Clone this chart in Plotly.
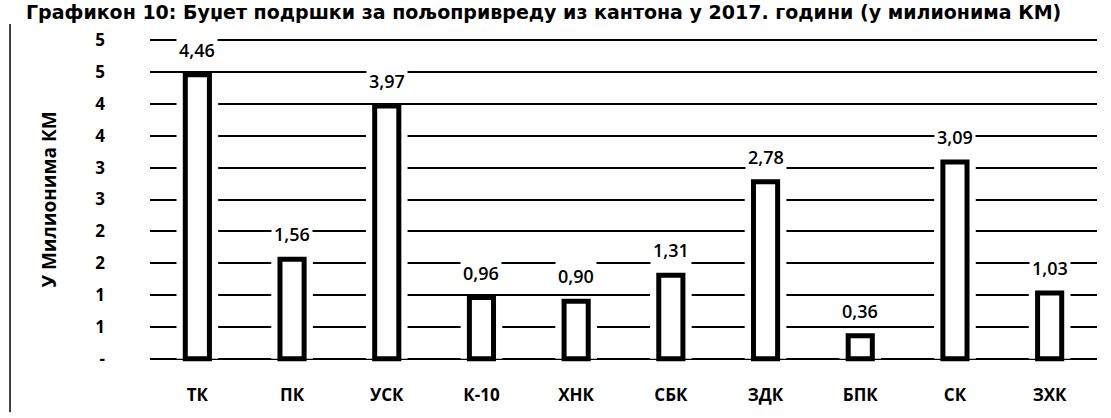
import plotly.graph_objects as go

categories = ["ТК", "ПК", "УСК", "К-10", "ХНК", "СБК", "ЗДК", "БПК", "СК", "ЗХК"]
values = [4.46, 1.56, 3.97, 0.96, 0.90, 1.31, 2.78, 0.36, 3.09, 1.03]
value_labels = ["4,46", "1,56", "3,97", "0,96", "0,90", "1,31", "2,78", "0,36", "3,09", "1,03"]
tick_vals = [0, 0.5, 1, 1.5, 2, 2.5, 3, 3.5, 4, 4.5, 5]
tick_text = ["-", "1", "1", "2", "2", "3", "3", "4", "4", "5", "5"]

title_text = "Графикон 10: Буџет подршки за пољопривреду из кантона у 2017. години (у милионима КМ)"
y_title = "У Милионима КМ"

FONT = "Open Sans"

fig = go.Figure()
# white halo bars to interrupt the gridlines around each bar
fig.add_trace(go.Bar(x=categories, y=values, width=0.44,
                     marker=dict(color="white", line=dict(width=0)),
                     hoverinfo="skip", showlegend=False))
# main bars: white fill, thick black outline
fig.add_trace(go.Bar(x=categories, y=values, width=0.255,
                     marker=dict(color="white", line=dict(color="black", width=5)),
                     showlegend=False))

for c, v, t in zip(categories, values, value_labels):
    fig.add_annotation(x=c, y=v, text=t, showarrow=False, yanchor="bottom", yshift=10,
                       bgcolor="white", borderpad=2,
                       font=dict(family=FONT, size=18, color="black", weight=600))

fig.add_annotation(xref="paper", yref="paper", x=-0.132, y=1.0655, xanchor="left", yanchor="middle",
                   text=title_text, showarrow=False, borderpad=0,
                   font=dict(family="DejaVu Sans", size=19, color="black", weight="bold"))

fig.add_shape(type="line", xref="paper", yref="paper", x0=-0.1478, x1=-0.1478, y0=-0.143, y1=1.03,
              line=dict(color="black", width=1.5))

fig.update_layout(
    width=1111, height=418,
    margin=dict(l=150, r=14, t=34, b=48),
    paper_bgcolor="white", plot_bgcolor="white",
    barmode="overlay",
    font=dict(family=FONT, color="black"),
    xaxis=dict(showgrid=False, showline=False, zeroline=False, ticks="",
               tickfont=dict(family=FONT, size=17, color="black", weight="bold"),
               ticklabelstandoff=18),
    yaxis=dict(range=[-0.1, 5.1], tickvals=tick_vals, ticktext=tick_text,
               showgrid=True, gridcolor="black", gridwidth=1.5, zeroline=False, showline=False,
               ticks="", ticklabelstandoff=44,
               tickfont=dict(family=FONT, size=17, color="black", weight="bold"),
               title=dict(text=y_title, standoff=33,
                          font=dict(family=FONT, size=19, color="black", weight="bold"))),
)

fig.write_html("out.html", config={"displayModeBar": False},
               post_script="document.body.style.margin='0';")
